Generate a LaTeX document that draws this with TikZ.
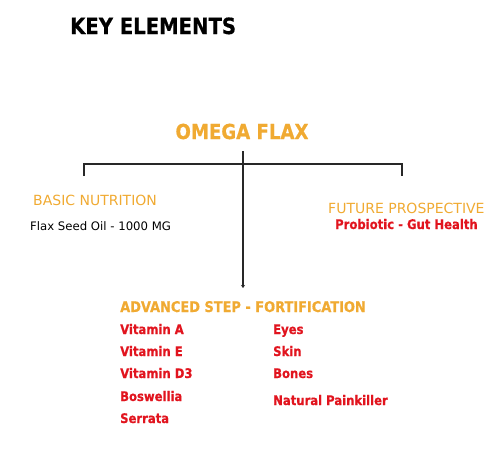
\documentclass[tikz,border=0pt]{standalone}
\usepackage{fontspec}
\setmainfont{DejaVu Sans}
\newfontfamily\boldfont[FakeStretch=0.88,FakeBold=0.6]{DejaVu Sans Bold}
\usetikzlibrary{arrows.meta}
\definecolor{flaxgold}{RGB}{240,170,50}
\definecolor{flaxred}{RGB}{225,20,30}
\definecolor{linegray}{RGB}{40,40,40}
\tikzset{
  lbl/.style={anchor=base west,inner sep=0pt},
  head/.style={lbl,text=flaxgold,font=\fontsize{14}{16}\selectfont},
  item/.style={lbl,text=flaxred,font=\boldfont\fontsize{13.2}{15}\selectfont},
  bar/.style={linegray,line width=1.4pt}
}
\begin{document}
\begin{tikzpicture}[x=1pt,y=-1pt]
\useasboundingbox (0,0) rectangle (500,469);
\node[lbl,font=\boldfont\fontsize{22.3}{24}\selectfont] (title) at (70,34) {KEY ELEMENTS};
\node[anchor=base,inner sep=0pt,text=flaxgold,font=\boldfont\fontsize{20.6}{22}\selectfont] (omega) at (242,139) {OMEGA FLAX};
% left and right branches
\node[head] (basic) at (33,205) {BASIC NUTRITION};
\node[lbl,font=\fontsize{11.7}{14}\selectfont] (oil) at (30,230) {Flax Seed Oil - 1000 MG};
\node[head] (future) at (328,213) {FUTURE PROSPECTIVE};
\node[item] (probio) at (335,229) {Probiotic - Gut Health};
% advanced step
\node[lbl,text=flaxgold,font=\boldfont\fontsize{14.7}{17}\selectfont] (adv) at (120,312) {ADVANCED STEP - FORTIFICATION};
\foreach \lab/\y [count=\i] in {Vitamin A/334,Vitamin E/356,Vitamin D3/378,Boswellia/401,Serrata/423}{
  \node[item] (vit\i) at (120,\y) {\lab};}
\foreach \lab/\y [count=\i] in {Eyes/334,Skin/356,Bones/378,Natural Painkiller/405}{
  \node[item] (use\i) at (273,\y) {\lab};}
% bracket and stem
\coordinate (stemtop) at (243,151);
\coordinate (stemend) at (243,288);
\coordinate (barl) at (84,164);
\coordinate (barr) at (402,164);
\coordinate (tickl) at (84,176);
\coordinate (tickr) at (402,176);
\draw[bar] (tickl) -- (barl) -- (barr) -- (tickr);
\draw[bar,-{Stealth[length=3pt,width=4pt]}] (stemtop) -- (stemend);
\end{tikzpicture}
\end{document}
